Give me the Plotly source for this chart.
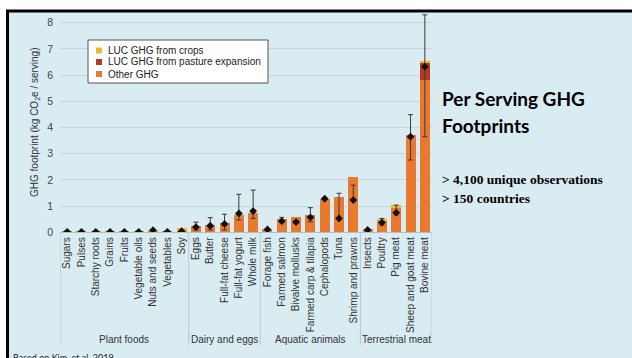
import plotly.graph_objects as go

W, H = 632, 358

categories = ["Sugars", "Pulses", "Starchy roots", "Grains", "Fruits", "Vegetable oils",
              "Nuts and seeds", "Vegetables", "Soy",
              "Eggs", "Butter", "Full-fat cheese", "Full-fat yogurt", "Whole milk",
              "Forage fish", "Farmed salmon", "Bivalve mollusks", "Farmed carp & tilapia",
              "Cephalopods", "Tuna", "Shrimp and prawns",
              "Insects", "Poultry", "Pig meat", "Sheep and goat meat", "Bovine meat"]

groups = ["Plant foods", "Dairy and eggs", "Aquatic animals", "Terrestrial meat"]
group_sizes = [9, 5, 7, 5]

other_ghg = [0.02, 0.02, 0.02, 0.03, 0.02, 0.04, 0.06, 0.02, 0.04,
             0.25, 0.28, 0.34, 0.65, 0.72,
             0.13, 0.49, 0.57, 0.66, 1.28, 1.36, 2.11,
             0.11, 0.44, 0.92, 3.70, 5.81]
luc_pasture = [0, 0, 0, 0, 0, 0, 0, 0, 0,
               0, 0, 0, 0, 0,
               0, 0, 0, 0, 0, 0, 0,
               0, 0, 0, 0, 0.66]
luc_crops = [0, 0, 0, 0, 0, 0, 0.02, 0, 0.11,
             0, 0, 0, 0, 0,
             0, 0, 0, 0, 0, 0, 0,
             0, 0.06, 0.12, 0, 0.07]
median = [0.02, 0.02, 0.02, 0.02, 0.02, 0.02, 0.08, 0.02, 0.04,
          0.20, 0.25, 0.32, 0.72, 0.81,
          0.11, 0.43, 0.39, 0.57, 1.28, 0.53, 1.23,
          0.09, 0.37, 0.75, 3.65, 6.32]
err_low = [None, None, None, None, None, None, None, None, None,
           0.09, 0.09, 0.09, 0.47, 0.53,
           None, 0.37, 0.35, 0.40, None, 0.53, 1.20,
           None, 0.28, 0.66, 2.76, 3.65]
err_high = [None, None, None, None, None, None, None, None, None,
            0.39, 0.56, 0.69, 1.45, 1.61,
            None, 0.57, 0.45, 0.94, None, 1.49, 1.80,
            None, 0.53, 1.04, 4.49, 8.30]

series_names = ["LUC GHG from crops", "LUC GHG from pasture expansion", "Other GHG"]
C_CROPS, C_PAST, C_OTHER = "#f2b531", "#b23a25", "#e8792f"
BG = "#d9ecf2"
FONT = "Liberation Sans, Arial, sans-serif"


def px(x):
    return x / W


def py(y):
    return 1 - y / H


err_plus = [None if h is None else round(h - m, 3) for h, m in zip(err_high, median)]
err_minus = [None if l is None else round(m - l, 3) for l, m in zip(err_low, median)]

fig = go.Figure()
fig.add_bar(x=categories, y=other_ghg, name=series_names[2], marker_color=C_OTHER,
            marker_line_width=0, showlegend=False)
fig.add_bar(x=categories, y=luc_pasture, name=series_names[1], marker_color=C_PAST,
            marker_line_width=0, showlegend=False)
fig.add_bar(x=categories, y=luc_crops, name=series_names[0], marker_color=C_CROPS,
            marker_line_width=0, showlegend=False)
fig.add_scatter(x=categories, y=median, mode="markers", showlegend=False,
                marker=dict(symbol="diamond", size=6, color="#111"),
                error_y=dict(type="data", symmetric=False, array=err_plus,
                             arrayminus=err_minus, color="#3a3a3a", thickness=1, width=2.5))

shapes = []
# slide background with black frame on top/left
shapes.append(dict(type="rect", xref="paper", yref="paper", x0=px(7.5), x1=1.05,
                   y0=-0.05, y1=py(11), line=dict(color="black", width=3),
                   fillcolor=BG, layer="below"))
# group separators
bounds = [-0.5]
for s in group_sizes:
    bounds.append(bounds[-1] + s)
for b in bounds:
    shapes.append(dict(type="line", xref="x", yref="paper", x0=b, x1=b,
                       y0=py(232.5), y1=py(345), line=dict(color="#b9c9cf", width=1)))
# custom legend
shapes.append(dict(type="rect", xref="paper", yref="paper", x0=px(88), x1=px(268),
                   y0=py(83), y1=py(40), fillcolor="white",
                   line=dict(color="#555", width=1)))
annotations = []
leg_y = [50.5, 62.0, 74.0]
leg_c = [C_CROPS, C_PAST, C_OTHER]
for name, c, yy in zip(series_names, leg_c, leg_y):
    shapes.append(dict(type="rect", xref="paper", yref="paper", x0=px(96), x1=px(102),
                       y0=py(yy + 3), y1=py(yy - 3), fillcolor=c, line=dict(width=0)))
    annotations.append(dict(text=name, xref="paper", yref="paper", x=px(106), y=py(yy),
                            xanchor="left", yanchor="middle", showarrow=False,
                            font=dict(family=FONT, size=10, color="#222")))

# group labels
start = 0
for g, s in zip(groups, group_sizes):
    annotations.append(dict(text=g, xref="x", yref="paper", x=start + (s - 1) / 2,
                            y=py(339), xanchor="center", yanchor="middle",
                            showarrow=False, font=dict(family=FONT, size=10, color="#333")))
    start += s

# y-axis title
annotations.append(dict(text="GHG footprint (kg CO<sub>2</sub>e / serving)", xref="paper",
                        yref="paper", x=px(35), y=py(122), textangle=-90,
                        xanchor="center", yanchor="middle", showarrow=False,
                        font=dict(family=FONT, size=10, color="#333")))

# side texts
annotations.append(dict(text="<b>Per Serving GHG</b>", xref="paper", yref="paper",
                        x=px(440), y=py(98), xanchor="left", yanchor="middle",
                        showarrow=False, font=dict(family="Lato, sans-serif", size=19, color="black")))
annotations.append(dict(text="<b>Footprints</b>", xref="paper", yref="paper",
                        x=px(440), y=py(125), xanchor="left", yanchor="middle",
                        showarrow=False, font=dict(family="Lato, sans-serif", size=19, color="black")))
annotations.append(dict(text="<b>> 4,100 unique observations</b>", xref="paper", yref="paper",
                        x=px(440), y=py(179), xanchor="left", yanchor="middle",
                        showarrow=False, font=dict(family="Liberation Serif, serif", size=13.5, color="black")))
annotations.append(dict(text="<b>> 150 countries</b>", xref="paper", yref="paper",
                        x=px(440), y=py(198), xanchor="left", yanchor="middle",
                        showarrow=False, font=dict(family="Liberation Serif, serif", size=13.5, color="black")))
annotations.append(dict(text="Based on Kim, et al. 2019", xref="paper", yref="paper",
                        x=px(11), y=py(349.5), xanchor="left", yanchor="top",
                        showarrow=False, font=dict(family="Lato, sans-serif", size=9, color="#222")))

fig.update_layout(
    width=W, height=H,
    margin=dict(l=0, r=0, t=0, b=0),
    paper_bgcolor="white",
    plot_bgcolor="rgba(0,0,0,0)",
    barmode="stack",
    bargap=0.3,
    showlegend=False,
    shapes=shapes,
    annotations=annotations,
    xaxis=dict(domain=[px(60), px(432)], type="category", range=[-0.5, 25.5],
               tickangle=-90, tickfont=dict(family=FONT, size=10, color="#333"),
               showgrid=False, showline=True, linecolor="#b0c2c8", linewidth=1,
               ticks="", automargin=False, fixedrange=True),
    yaxis=dict(domain=[py(232.3), py(12.2)], range=[0, 8.4], dtick=1, tick0=0,
               tickfont=dict(family=FONT, size=10.5, color="#444"),
               showgrid=True, gridcolor="#c6d8de", gridwidth=1, zeroline=False,
               showline=False, ticks="", ticklabelstandoff=6, automargin=False,
               fixedrange=True),
)

fig.write_html("out.html")
